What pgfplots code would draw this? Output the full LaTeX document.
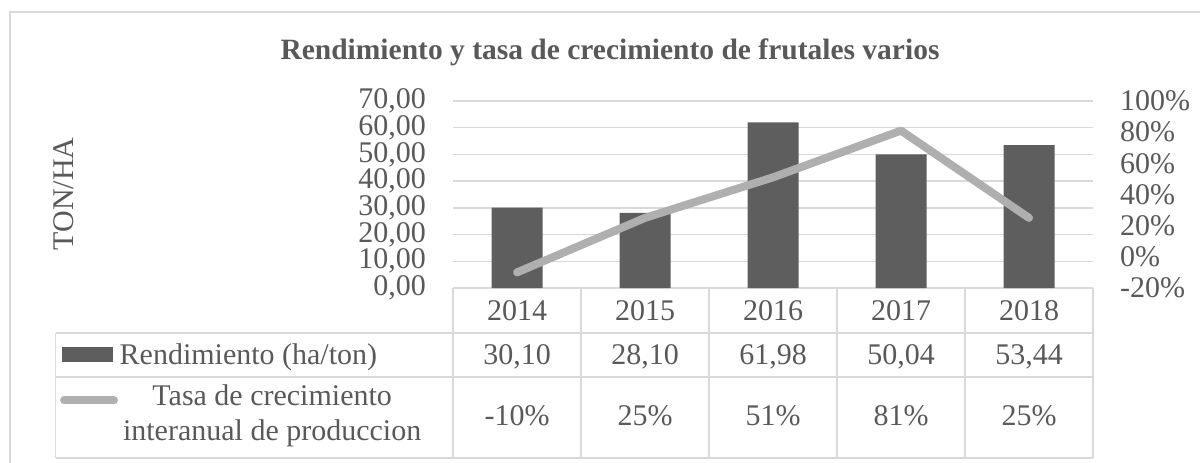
\documentclass[border=0pt]{standalone}
\usepackage{pgfplots}
\pgfplotsset{compat=1.18}
\usepackage{fontspec}
\setmainfont{Liberation Serif}
\definecolor{txt}{HTML}{595959}
\definecolor{barc}{HTML}{5E5E5E}
\definecolor{linec}{HTML}{AFAFAF}
\definecolor{gridc}{HTML}{D9D9D9}
\begin{document}
\begin{tikzpicture}[x=1bp,y=1bp,font=\fontsize{30bp}{35bp}\selectfont]
\useasboundingbox (0,0) rectangle (1200,-463);
\draw[gridc, line width=1.5bp] (10,-463) -- (10,-12) -- (1200,-12);
\node[anchor=base, text=txt, font=\fontsize{29.5bp}{35bp}\selectfont\bfseries] at (610,-60) {Rendimiento y tasa de crecimiento de frutales varios};

% table grid
\draw[gridc, line width=1.5bp] (453,-288) -- (1093,-288);
\draw[gridc, line width=1.5bp] (55.7,-333) -- (1093,-333);
\draw[gridc, line width=1.5bp] (55.7,-377) -- (1093,-377);
\draw[gridc, line width=1.5bp] (55.7,-458) -- (1093,-458);
\draw[gridc, line width=1.5bp] (55.7,-333) -- (55.7,-458);
\foreach \xx in {453,581,709,837,965,1093} {\draw[gridc, line width=1.5bp] (\xx,-288) -- (\xx,-458);}
\foreach \yy/\xx in {2014/517,2015/645,2016/773,2017/901,2018/1029} {\node[anchor=base, text=txt] at (\xx,-320.7) {\yy};}
\foreach \vv/\xx in {{30,10}/517,{28,10}/645,{61,98}/773,{50,04}/901,{53,44}/1029} {\node[anchor=base, text=txt] at (\xx,-364.5) {\vv};}
\foreach \vv/\xx in {-10/517,25/645,51/773,81/901,25/1029} {\node[anchor=base, text=txt] at (\xx,-426) {\vv\%};}

\begin{axis}[
  at={(453bp,-288bp)}, anchor=south west,
  scale only axis, width=640bp, height=187bp,
  xmin=-0.5, xmax=4.5, ymin=0, ymax=70,
  hide x axis,
  axis y line*=left,
  y axis line style={draw=none},
  major tick length=0pt,
  ymajorgrids, grid style={gridc, line width=1.5bp},
  ytick={0,10,...,70},
  yticklabel style={anchor=east, inner sep=0pt, xshift=-27bp, text=txt, font=\fontsize{30bp}{35bp}\selectfont,
    /pgf/number format/.cd, fixed, fixed zerofill, precision=2, use comma, assume math mode=true},
  ylabel={TON/HA},
  ylabel style={at={(axis description cs:-0.609,0.503)}, anchor=center, text=txt, font=\fontsize{30bp}{35bp}\selectfont},
  legend style={at={(axis description cs:-0.6105,-0.418)}, anchor=south west, draw=none, fill=none,
    inner sep=0pt, outer sep=0pt, nodes={inner sep=0pt, text=txt}, font=\fontsize{30bp}{35bp}\selectfont,
    /tikz/every odd column/.append style={column sep=6.4bp}},
  legend image code/.code={\fill[barc] (0bp,-7bp) rectangle (51bp,8.4bp);},
]
\addplot[ybar, bar width=51bp, fill=barc, draw=none] coordinates {(0,30.10) (1,28.10) (2,61.98) (3,50.04) (4,53.44)};
\addlegendentry{Rendimiento (ha/ton)}
\end{axis}

\begin{axis}[
  at={(453bp,-288bp)}, anchor=south west,
  scale only axis, width=640bp, height=187bp,
  xmin=-0.5, xmax=4.5, ymin=-0.2, ymax=1.0,
  hide x axis,
  axis y line*=right,
  y axis line style={draw=none},
  major tick length=0pt,
  ytick={-0.2,0,0.2,0.4,0.6,0.8,1.0},
  yticklabels={-20\%,0\%,20\%,40\%,60\%,80\%,100\%},
  yticklabel style={anchor=west, inner sep=0pt, xshift=27bp, text=txt, font=\fontsize{30bp}{35bp}\selectfont},
  legend style={at={(axis description cs:-0.614,-0.612)}, anchor=west, draw=none, fill=none,
    inner sep=0pt, outer sep=0pt, nodes={inner sep=0pt, text=txt}, font=\fontsize{30bp}{35bp}\selectfont,
    /tikz/every odd column/.append style={column sep=5bp}},
  legend image code/.code={\draw[linec, line width=8bp, line cap=round] (4bp,2bp) -- (54bp,2bp);},
]
\addplot[linec, line width=8bp, line cap=round, line join=round] coordinates {(0,-0.10) (1,0.25) (2,0.51) (3,0.81) (4,0.25)};
\addlegendentry{\begin{tabular}{@{}c@{}}Tasa de crecimiento\\interanual de produccion\end{tabular}}
\end{axis}
\end{tikzpicture}
\end{document}
